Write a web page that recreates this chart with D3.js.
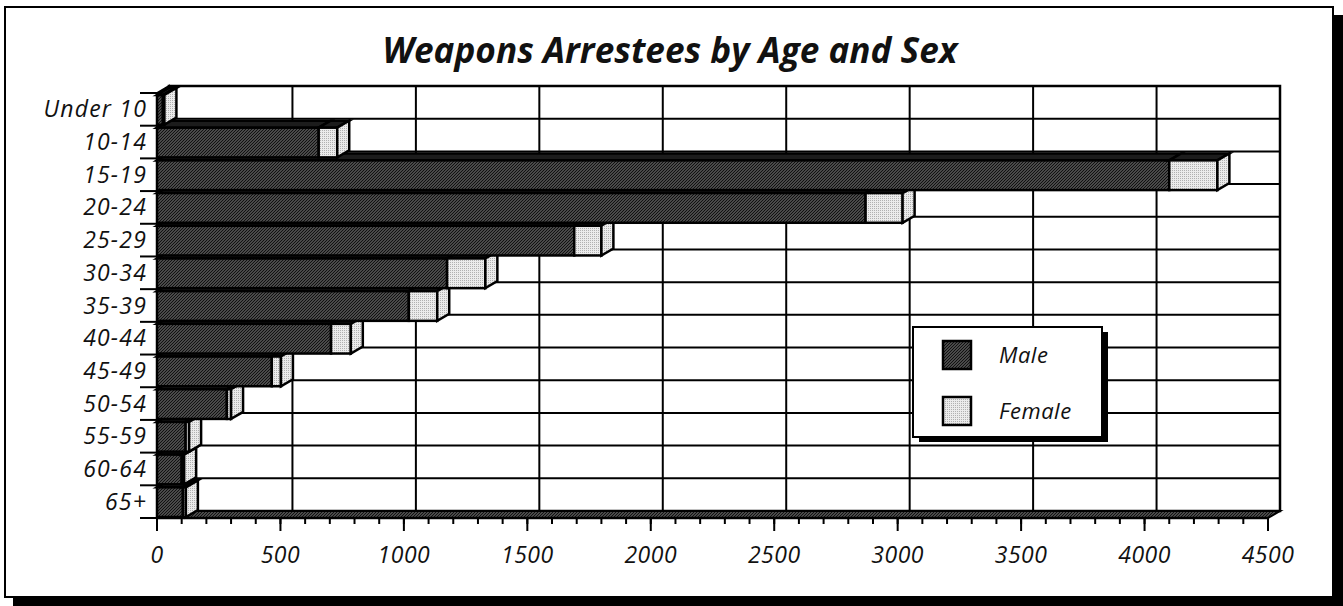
<!DOCTYPE html>
<html>
<head>
<meta charset="utf-8">
<script src="https://cdn.jsdelivr.net/npm/d3@7"></script>
<style>
  body { margin: 0; background: #fff; }
  text { font-family: 'Open Sans', 'DejaVu Sans', sans-serif; font-style: italic; fill: #111; }
</style>
</head>
<body>
<svg></svg>
<script>
// values (number of arrestees)
const ages = ['Under 10', '10-14', '15-19', '20-24', '25-29', '30-34', '35-39',
  '40-44', '45-49', '50-54', '55-59', '60-64', '65+'];
const male = [24, 655, 4100, 2870, 1690, 1175, 1020, 705, 465, 283, 116, 100, 105];
const female = [6, 75, 195, 150, 110, 155, 115, 80, 37, 17, 14, 10, 12];
const xTickValues = [0, 500, 1000, 1500, 2000, 2500, 3000, 3500, 4000, 4500];
const seriesNames = ['Male', 'Female'];

const width = 1343;
const height = 606;
// depth of the 3d box (back wall is shifted right and up)
const dx = 12;
const dy = -7;

const svg = d3.select('svg').attr('width', width).attr('height', height);

const defs = svg.append('defs');
const dark = defs.append('pattern').attr('id', 'dark')
  .attr('width', 3).attr('height', 3).attr('patternUnits', 'userSpaceOnUse');
dark.append('rect').attr('width', 3).attr('height', 3).attr('fill', '#4a4a4a');
dark.append('path').attr('d', 'M0,3L3,0M-1,1L1,-1M2,4L4,2').attr('stroke', '#111').attr('stroke-width', 1);
const light = defs.append('pattern').attr('id', 'light')
  .attr('width', 2).attr('height', 2).attr('patternUnits', 'userSpaceOnUse');
light.append('rect').attr('width', 2).attr('height', 2).attr('fill', '#ebebeb');
light.append('rect').attr('width', 1).attr('height', 1).attr('fill', '#b0b0b0');

// outer frame with drop shadow
svg.append('rect').attr('x', 13).attr('y', 15).attr('width', 1330).attr('height', 591).attr('fill', '#000');
svg.append('rect').attr('x', 5).attr('y', 7).attr('width', 1328).attr('height', 590)
  .attr('fill', '#fff').attr('stroke', '#000').attr('stroke-width', 2);

svg.append('text')
  .attr('x', 670).attr('y', 63)
  .attr('text-anchor', 'middle')
  .attr('textLength', 575).attr('lengthAdjust', 'spacingAndGlyphs')
  .style('font-size', '36px').style('font-weight', 'bold')
  .text('Weapons Arrestees by Age and Sex');

const x = d3.scaleLinear().domain([0, 4500]).range([157, 1268]);
const y = d3.scaleBand().domain(ages).range([93, 518]);
const yEdges = ages.map(a => y(a)).concat([y.range()[1]]);

const plot = svg.append('g');
const line = 'stroke:#000;stroke-width:2;fill:none';

// back wall
plot.append('rect')
  .attr('x', x(0) + dx).attr('y', y.range()[0] + dy)
  .attr('width', x(4500) - x(0)).attr('height', y.range()[1] - y.range()[0])
  .attr('fill', '#fff').attr('style', 'stroke:#000;stroke-width:2.5');
plot.selectAll('.vgrid').data(xTickValues).enter().append('line')
  .attr('x1', d => x(d) + dx).attr('x2', d => x(d) + dx)
  .attr('y1', y.range()[0] + dy).attr('y2', y.range()[1] + dy)
  .attr('style', line);
plot.selectAll('.hgrid').data(yEdges).enter().append('line')
  .attr('x1', x(0) + dx).attr('x2', x(4500) + dx)
  .attr('y1', d => d + dy).attr('y2', d => d + dy)
  .attr('style', line);

// floor and left wall
const poly = pts => 'M' + pts.map(p => p.join(',')).join('L') + 'Z';
const y0 = y.range()[0];
const y1 = y.range()[1];
plot.append('path')
  .attr('d', poly([[x(0), y1], [x(0) + dx, y1 + dy], [x(4500) + dx, y1 + dy], [x(4500), y1]]))
  .attr('fill', 'url(#dark)').attr('stroke', '#000').attr('stroke-width', 2);
plot.append('path')
  .attr('d', poly([[x(0), y0], [x(0) + dx, y0 + dy], [x(0) + dx, y1 + dy], [x(0), y1]]))
  .attr('fill', '#111').attr('stroke', '#000').attr('stroke-width', 2);

// bars, drawn from the bottom row up so upper bars cover the tops of lower ones
const rows = ages.map((a, i) => ({ age: a, m: male[i], f: female[i] })).reverse();
rows.forEach(r => {
  const top = y(r.age) + 2;
  const bot = y(r.age) + y.bandwidth() - 1;
  const segs = [
    { a: 0, b: r.m, fill: 'url(#dark)' },
    { a: r.m, b: r.m + r.f, fill: 'url(#light)' },
  ];
  const g = plot.append('g').attr('stroke', '#000').attr('stroke-width', 2.5).attr('stroke-linejoin', 'miter');
  segs.forEach(s => {
    const xa = x(s.a);
    const xb = x(s.b);
    g.append('path')
      .attr('d', poly([[xa, top], [xa + dx, top + dy], [xb + dx, top + dy], [xb, top]]))
      .attr('fill', '#1c1c1c');
    g.append('rect')
      .attr('x', xa).attr('y', top).attr('width', xb - xa).attr('height', bot - top)
      .attr('fill', s.fill);
  });
  const xe = x(r.m + r.f);
  g.append('path')
    .attr('d', poly([[xe, top], [xe + dx, top + dy], [xe + dx, bot + dy], [xe, bot]]))
    .attr('fill', 'url(#light)').attr('stroke-width', 2.5);
});

// category ticks and labels
plot.selectAll('.ytick').data(yEdges).enter().append('line')
  .attr('x1', 140).attr('x2', x(0))
  .attr('y1', d => d).attr('y2', d => d)
  .attr('style', line);
plot.selectAll('.ylab').data(ages).enter().append('text')
  .attr('x', 147).attr('y', d => y(d) + y.bandwidth() / 2 + 8)
  .attr('text-anchor', 'end')
  .style('font-size', '23px').style('letter-spacing', '1.2px')
  .text(d => d);

// value axis
const xAxis = plot.append('g').attr('transform', `translate(0,${y1})`);
xAxis.append('line').attr('x1', x(0)).attr('x2', x(4500)).attr('style', 'stroke:#000;stroke-width:2.5');
xAxis.selectAll('.minor').data(x.ticks(45)).enter().append('line')
  .attr('x1', d => x(d)).attr('x2', d => x(d)).attr('y1', 0).attr('y2', 6)
  .attr('style', line);
xAxis.selectAll('.major').data(xTickValues).enter().append('line')
  .attr('x1', d => x(d)).attr('x2', d => x(d)).attr('y1', 0).attr('y2', 13)
  .attr('style', line);
xAxis.selectAll('.xlab').data(xTickValues).enter().append('text')
  .attr('x', d => x(d)).attr('y', 45)
  .attr('text-anchor', 'middle')
  .style('font-size', '23px').style('letter-spacing', '0.5px')
  .text(d => d);

// legend
const legend = svg.append('g').attr('transform', 'translate(913,327)');
legend.append('rect').attr('x', 6).attr('y', 5).attr('width', 189).attr('height', 110).attr('fill', '#000');
legend.append('rect').attr('width', 189).attr('height', 110)
  .attr('fill', '#fff').attr('stroke', '#000').attr('stroke-width', 2);
const items = legend.selectAll('.item').data(seriesNames).enter().append('g')
  .attr('transform', (d, i) => `translate(0,${14 + i * 56})`);
items.append('rect')
  .attr('x', 30).attr('width', 28).attr('height', 28)
  .attr('fill', (d, i) => (i === 0 ? 'url(#dark)' : 'url(#light)'))
  .attr('stroke', '#000').attr('stroke-width', 2.5);
items.append('text')
  .attr('x', 86).attr('y', 22)
  .style('font-size', '22px').style('letter-spacing', '0.5px')
  .text(d => d);
</script>
</body>
</html>
